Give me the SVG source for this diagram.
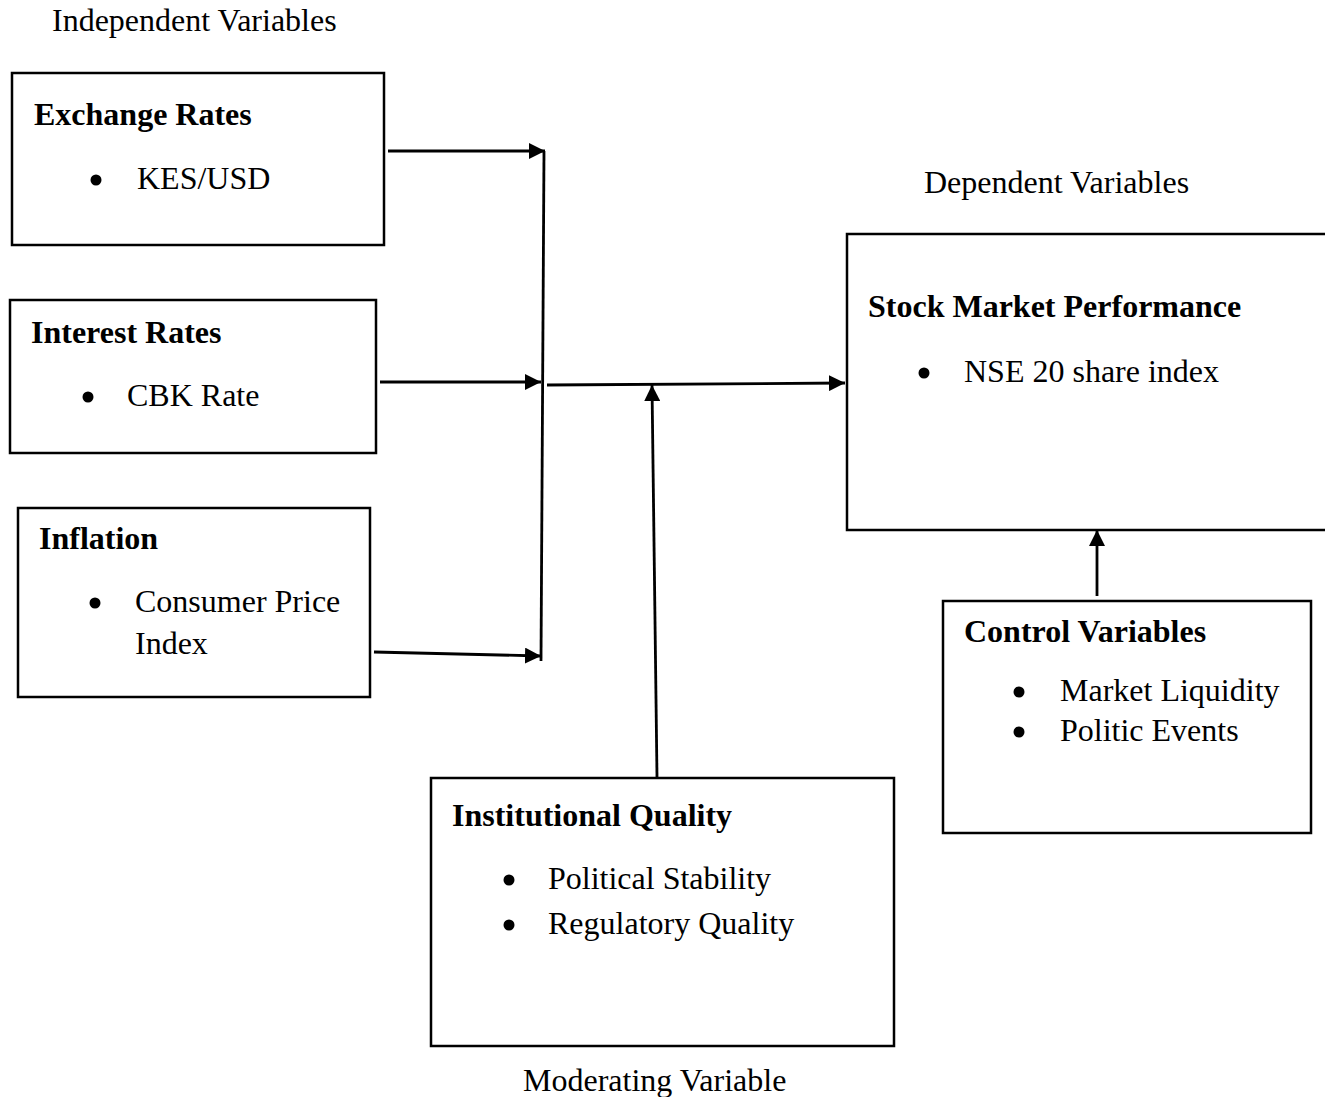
<svg xmlns="http://www.w3.org/2000/svg" width="1325" height="1097" viewBox="0 0 1325 1097">
<style>
text{font-family:"Liberation Serif","Times New Roman",serif;font-size:32px;fill:#000}
.t{font-weight:bold}
.box{fill:#fff;stroke:#000;stroke-width:2.5}
.c{stroke:#000;stroke-width:2.8;fill:none}
.b{fill:#000}
</style>
<defs>
<marker id="a" viewBox="0 0 16 16" refX="16" refY="8" markerWidth="16" markerHeight="16" markerUnits="userSpaceOnUse" orient="auto">
<path d="M0,0 L16,8 L0,16 z" fill="#000"/>
</marker>
</defs>
<text x="52" y="31">Independent Variables</text>
<text x="924" y="193">Dependent Variables</text>
<text x="523" y="1091">Moderating Variable</text>
<g id="exchange">
<rect class="box" x="12" y="73" width="372" height="172"/>
<text class="t" x="34" y="125">Exchange Rates</text>
<circle class="b" cx="96" cy="180" r="5.5"/>
<text x="137" y="189">KES/USD</text>
</g>
<g id="interest">
<rect class="box" x="10" y="300" width="366" height="153"/>
<text class="t" x="31" y="343">Interest Rates</text>
<circle class="b" cx="88" cy="397" r="5.5"/>
<text x="127" y="406">CBK Rate</text>
</g>
<g id="inflation">
<rect class="box" x="18" y="508" width="352" height="189"/>
<text class="t" x="39" y="549">Inflation</text>
<circle class="b" cx="95" cy="603" r="5.5"/>
<text x="135" y="612">Consumer Price</text>
<text x="135" y="654">Index</text>
</g>
<g id="institutional">
<rect class="box" x="431" y="778" width="463" height="268"/>
<text class="t" x="452" y="826">Institutional Quality</text>
<circle class="b" cx="509" cy="880" r="5.5"/>
<text x="548" y="889">Political Stability</text>
<circle class="b" cx="509" cy="925" r="5.5"/>
<text x="548" y="934">Regulatory Quality</text>
</g>
<g id="stock">
<rect class="box" x="847" y="234" width="500" height="296"/>
<text class="t" x="868" y="317">Stock Market Performance</text>
<circle class="b" cx="924" cy="373" r="5.5"/>
<text x="964" y="382">NSE 20 share index</text>
</g>
<g id="control">
<rect class="box" x="943" y="601" width="368" height="232"/>
<text class="t" x="964" y="642">Control Variables</text>
<circle class="b" cx="1019" cy="692" r="5.5"/>
<text x="1060" y="701">Market Liquidity</text>
<circle class="b" cx="1019" cy="732" r="5.5"/>
<text x="1060" y="741">Politic Events</text>
</g>
<g id="connectors">
<line class="c" x1="388" y1="151" x2="545" y2="151" marker-end="url(#a)"/>
<line class="c" x1="544" y1="151" x2="541" y2="661"/>
<line class="c" x1="380" y1="382" x2="541" y2="382" marker-end="url(#a)"/>
<line class="c" x1="374" y1="652" x2="541" y2="656" marker-end="url(#a)"/>
<line class="c" x1="547" y1="385" x2="845" y2="383" marker-end="url(#a)"/>
<line class="c" x1="657" y1="777" x2="652" y2="385" marker-end="url(#a)"/>
<line class="c" x1="1097" y1="596" x2="1097" y2="530" marker-end="url(#a)"/>
</g>
</svg>
